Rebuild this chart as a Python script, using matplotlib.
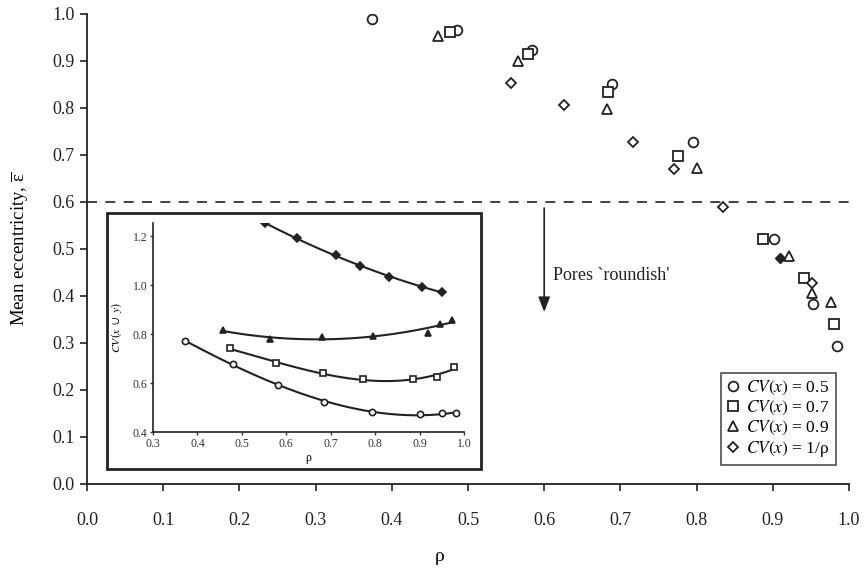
import numpy as np
import matplotlib
matplotlib.use("Agg")
import matplotlib.pyplot as plt
from matplotlib.patches import Rectangle

plt.rcParams["font.family"] = ["Liberation Serif", "DejaVu Serif"]
plt.rcParams["mathtext.fontset"] = "stix"

# main panel: mean eccentricity vs rho
rho_05 = [0.374, 0.485, 0.584, 0.689, 0.795, 0.902, 0.953, 0.984]
ecc_05 = [0.989, 0.966, 0.923, 0.852, 0.728, 0.521, 0.383, 0.294]
rho_07 = [0.476, 0.579, 0.684, 0.776, 0.887, 0.941, 0.980]
ecc_07 = [0.961, 0.915, 0.833, 0.698, 0.521, 0.438, 0.340]
rho_09 = [0.461, 0.566, 0.682, 0.800, 0.921, 0.952, 0.976]
ecc_09 = [0.953, 0.899, 0.797, 0.673, 0.485, 0.406, 0.387]
rho_inv = [0.557, 0.626, 0.716, 0.770, 0.835, 0.952]
ecc_inv = [0.854, 0.806, 0.728, 0.670, 0.590, 0.428]
rho_inv_fill = [0.909]
ecc_inv_fill = [0.481]
threshold = 0.6

# inset: CV(x U y) vs rho
in_rho_05 = [0.372, 0.481, 0.581, 0.685, 0.792, 0.900, 0.951, 0.983]
in_cv_05 = [0.771, 0.678, 0.592, 0.524, 0.481, 0.474, 0.476, 0.476]
in_rho_07 = [0.473, 0.576, 0.682, 0.773, 0.886, 0.940, 0.977]
in_cv_07 = [0.742, 0.680, 0.642, 0.616, 0.616, 0.623, 0.665]
in_rho_09 = [0.458, 0.563, 0.680, 0.796, 0.919, 0.947, 0.973]
in_cv_09 = [0.815, 0.778, 0.788, 0.794, 0.805, 0.843, 0.856]
in_rho_inv = [0.552, 0.624, 0.712, 0.767, 0.831, 0.906, 0.951]
in_cv_inv = [1.252, 1.192, 1.122, 1.080, 1.032, 0.991, 0.973]

fig = plt.figure(figsize=(8.65, 5.68), dpi=100)
ax = fig.add_axes([0.1006, 0.1479, 0.8809, 0.8275])

mk = dict(ls="none", mfc="white", mec="#222222", mew=1.3, ms=7)
ax.plot(rho_05, ecc_05, marker="o", label=r"$CV(x)$ = 0.5", **mk)
ax.plot(rho_07, ecc_07, marker="s", label=r"$CV(x)$ = 0.7", **mk)
ax.plot(rho_09, ecc_09, marker="^", label=r"$CV(x)$ = 0.9", **mk)
ax.plot(rho_inv, ecc_inv, marker="D", label=r"$CV(x)$ = 1/ρ",
        **{**mk, "ms": 5.5})
ax.plot(rho_inv_fill, ecc_inv_fill, marker="D", ls="none", mfc="#222222",
        mec="#222222", ms=5.5)

ax.axhline(threshold, color="#222222", lw=1.2, dashes=(6, 5))
ax.annotate("", xy=(0.6, 0.36), xytext=(0.6, 0.593),
            arrowprops=dict(arrowstyle="-|>,head_width=0.35,head_length=0.9",
                            color="#222222", lw=1.2))
ax.text(0.612, 0.443, "Pores `roundish'", fontsize=13, va="center",
        color="#222222")

ax.set_xlim(0, 1.0)
ax.set_ylim(0, 1.0)
ax.set_xticks(np.arange(0, 1.01, 0.1))
ax.set_yticks(np.arange(0, 1.01, 0.1))
ax.xaxis.set_major_formatter(matplotlib.ticker.FormatStrFormatter("%.1f"))
ax.yaxis.set_major_formatter(matplotlib.ticker.FormatStrFormatter("%.1f"))
ax.tick_params(labelsize=13, length=5, width=1.2, colors="#222222", pad=15)
ax.tick_params(axis="y", pad=4)
for s in ["top", "right"]:
    ax.spines[s].set_visible(False)
for s in ["left", "bottom"]:
    ax.spines[s].set_linewidth(1.3)
    ax.spines[s].set_color("#222222")
ax.set_ylabel(r"Mean eccentricity, $\overline{\mathregular{ε}}$",
              fontsize=13.5, labelpad=15)
ax.text(0.463, -0.155, "ρ", transform=ax.transAxes, fontsize=14,
        ha="center", va="center")

leg = ax.legend(loc="upper right", bbox_to_anchor=(0.9665, 0.3433),
                bbox_transform=fig.transFigure, fontsize=12.5, frameon=True,
                fancybox=False, edgecolor="#222222", handlelength=0.7,
                handletextpad=0.4, borderpad=0.35, labelspacing=0.1,
                borderaxespad=0)
leg.get_frame().set_linewidth(1.2)

# inset frame
fig.patches.append(Rectangle((0.1237, 0.1743), 0.4324, 0.4507,
                             transform=fig.transFigure, fill=False,
                             ec="#222222", lw=2, zorder=5))

ins = fig.add_axes([0.1769, 0.2394, 0.3595, 0.3685])
series = [(in_rho_05, in_cv_05, "o", "white", 3),
          (in_rho_07, in_cv_07, "s", "white", 3),
          (in_rho_09, in_cv_09, "^", "#222222", 2),
          (in_rho_inv, in_cv_inv, "D", "#222222", 2)]
for xs, ys, m, fc, deg in series:
    c = np.polyfit(xs, ys, deg)
    xx = np.linspace(min(xs), max(xs), 200)
    ins.plot(xx, np.polyval(c, xx), color="#222222", lw=1.5)
    ins.plot(xs, ys, ls="none", marker=m, mfc=fc, mec="#222222",
             mew=1.2, ms=4.5 if m != "D" else 4)
ins.set_xlim(0.3, 1.0)
ins.set_ylim(0.4, 1.255)
ins.set_xticks(np.arange(0.3, 1.01, 0.1))
ins.set_yticks([0.4, 0.6, 0.8, 1.0, 1.2])
ins.xaxis.set_major_formatter(matplotlib.ticker.FormatStrFormatter("%.1f"))
ins.yaxis.set_major_formatter(matplotlib.ticker.FormatStrFormatter("%.1f"))
ins.tick_params(labelsize=8.5, length=2, width=1, colors="#333333", pad=2)
for s in ["top", "right"]:
    ins.spines[s].set_visible(False)
for s in ["left", "bottom"]:
    ins.spines[s].set_linewidth(1.2)
    ins.spines[s].set_color("#222222")
ins.set_xlabel("ρ", fontsize=8.5, labelpad=2)
ins.set_ylabel(r"$CV(x\ \cup\ y)$", fontsize=8.5, labelpad=6)

fig.savefig("out.png", dpi=100)
